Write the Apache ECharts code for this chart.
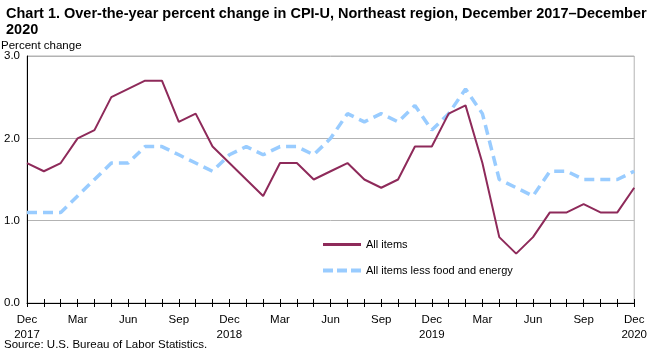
<!DOCTYPE html>
<html>
<head>
<meta charset="utf-8">
<script src="https://cdn.jsdelivr.net/npm/echarts@6/dist/echarts.min.js"></script>
<style>
  html, body { margin: 0; padding: 0; background: #fff; }
  #chart { width: 650px; height: 351px; }
</style>
</head>
<body>
<div id="chart"></div>
<script>
/* ---------------- data ---------------- */
// months Dec 2017 .. Dec 2020
let months = ['Dec 2017',
    'Jan 2018','Feb 2018','Mar 2018','Apr 2018','May 2018','Jun 2018','Jul 2018','Aug 2018','Sep 2018','Oct 2018','Nov 2018','Dec 2018',
    'Jan 2019','Feb 2019','Mar 2019','Apr 2019','May 2019','Jun 2019','Jul 2019','Aug 2019','Sep 2019','Oct 2019','Nov 2019','Dec 2019',
    'Jan 2020','Feb 2020','Mar 2020','Apr 2020','May 2020','Jun 2020','Jul 2020','Aug 2020','Sep 2020','Oct 2020','Nov 2020','Dec 2020'];

let allItems = [1.7,
    1.6, 1.7, 2.0, 2.1, 2.5, 2.6, 2.7, 2.7, 2.2, 2.3, 1.9, 1.7,
    1.5, 1.3, 1.7, 1.7, 1.5, 1.6, 1.7, 1.5, 1.4, 1.5, 1.9, 1.9,
    2.3, 2.4, 1.7, 0.8, 0.6, 0.8, 1.1, 1.1, 1.2, 1.1, 1.1, 1.4];

let lessFoodEnergy = [1.1,
    1.1, 1.1, 1.3, 1.5, 1.7, 1.7, 1.9, 1.9, 1.8, 1.7, 1.6, 1.8,
    1.9, 1.8, 1.9, 1.9, 1.8, 2.0, 2.3, 2.2, 2.3, 2.2, 2.4, 2.1,
    2.3, 2.6, 2.3, 1.5, 1.4, 1.3, 1.6, 1.6, 1.5, 1.5, 1.5, 1.6];

let yTicks = [0, 1, 2, 3];

/* ---------------- chart ---------------- */
let font = 'Liberation Sans, Arial, sans-serif';

let xLabel = function (v) {
    let p = v.split(' ');
    return p[0] === 'Dec' ? p[0] + '\n' + p[1] : p[0];
};

let option = {
    animation: false,
    textStyle: { fontFamily: font },
    title: {
        text: 'Chart 1. Over-the-year percent change in CPI-U, Northeast region, December 2017\u2013December\n2020',
        left: 1,
        top: 1,
        textStyle: { fontSize: 14.5, fontWeight: 'bold', color: '#000', lineHeight: 16, fontFamily: font }
    },
    grid: {
        left: 27, right: 13, top: 56, bottom: 48,
        show: true, borderColor: '#b3b3b3', borderWidth: 1
    },
    legend: {
        orient: 'vertical',
        left: 318,
        top: 234,
        itemWidth: 38,
        itemHeight: 14,
        itemGap: 15,
        textStyle: { fontSize: 11, color: '#000', fontFamily: font },
        data: [
            { name: 'All items', icon: 'path://M0,0L38,0L38,3L0,3Z', itemStyle: { color: '#8e2a5a' } },
            { name: 'All items less food and energy',
              icon: 'path://M0,0L10,0L10,4L0,4Z M14,0L24,0L24,4L14,4Z M28,0L38,0L38,4L28,4Z',
              itemStyle: { color: '#99ccff' } }
        ]
    },
    xAxis: [
        {
            type: 'category',
            data: months,
            boundaryGap: false,
            axisLine: { lineStyle: { color: '#000', width: 1 } },
            axisTick: { interval: 0, length: 4, lineStyle: { color: '#000' } },
            axisLabel: {
                interval: 2,
                formatter: xLabel,
                color: '#000',
                fontSize: 11.5,
                lineHeight: 15,
                margin: 9
            },
            splitLine: { show: false }
        },
        {
            type: 'category',
            data: months,
            position: 'bottom',
            boundaryGap: false,
            axisLine: { show: false },
            axisTick: { inside: true, interval: 0, length: 4, lineStyle: { color: '#000' } },
            axisLabel: { show: false },
            splitLine: { show: false }
        }
    ],
    yAxis: {
        type: 'value',
        min: yTicks[0],
        max: yTicks[yTicks.length - 1],
        interval: 1,
        axisLine: { show: true, lineStyle: { color: '#000' } },
        axisTick: { show: false },
        axisLabel: {
            color: '#000', fontSize: 11.5, margin: 7,
            formatter: function (v) { return v.toFixed(1); }
        },
        splitLine: { lineStyle: { color: '#b3b3b3', width: 1 } }
    },
    graphic: [
        {
            type: 'text', left: 1, top: 40,
            style: { text: 'Percent change', fontSize: 11.5, fill: '#000', fontFamily: font }
        },
        {
            type: 'text', left: 4, top: 339,
            style: { text: 'Source: U.S. Bureau of Labor Statistics.', fontSize: 11.5, fill: '#000', fontFamily: font }
        }
    ],
    series: [
        {
            name: 'All items',
            type: 'line',
            data: allItems,
            symbol: 'none',
            lineStyle: { color: '#8e2a5a', width: 2 },
            itemStyle: { color: '#8e2a5a' },
            z: 3
        },
        {
            name: 'All items less food and energy',
            type: 'line',
            data: lessFoodEnergy,
            symbol: 'none',
            lineStyle: { color: '#99ccff', width: 3.5, type: [10, 6] },
            itemStyle: { color: '#99ccff' },
            z: 2
        }
    ]
};

echarts.init(document.querySelector('#chart'), null, { renderer: 'canvas' }).setOption(option);
</script>
</body>
</html>
